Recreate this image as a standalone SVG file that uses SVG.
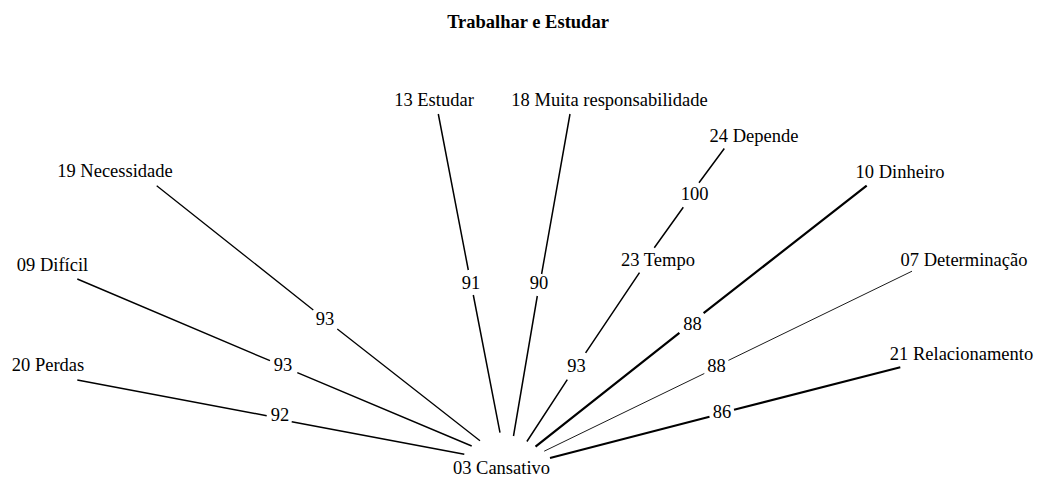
<svg xmlns="http://www.w3.org/2000/svg" width="1041" height="477" viewBox="0 0 1041 477">
<style>
text{font-family:"Liberation Serif","Times New Roman",serif;font-size:18.5px;fill:#000;text-anchor:middle}
.title{font-weight:bold}
.edge{fill:none;stroke:#000;stroke-width:1.5;stroke-linecap:butt}
</style>
<rect width="1041" height="477" fill="#fff"/>
<text class="title" x="528" y="28">Trabalhar e Estudar</text>
<g id="connectors">
<path class="edge" d="M77.3,380 L266.7,415.7 M291.7,421.7 L464.3,454.3"/>
<path class="edge" style="stroke-width:1.4" d="M77.3,279 L270,360.7 M297.3,372.7 L471.7,446"/>
<path class="edge" style="stroke-width:1.3" d="M156.7,185.7 L313.3,310 M337.3,329 L480,440.7"/>
<path class="edge" d="M438.3,114 L468.3,270 M473.3,295 L500,432.7"/>
<path class="edge" d="M570,114 L541.6,274 M537.3,296 L513.5,436"/>
<path class="edge" d="M724.3,148.5 L699,182.7 M683.3,207.3 L654.3,247.7"/>
<path class="edge" d="M639.5,272.7 L585.6,352.8 M567.3,379.7 L526.9,441.5"/>
<path class="edge" style="stroke-width:2.2" d="M866.7,185.7 L703.6,313.1 M679.4,332.8 L535.5,446.7"/>
<path class="edge" style="stroke-width:0.9" d="M912,271.2 L728.4,360.4 M704.3,373.5 L544.2,451.2"/>
<path class="edge" style="stroke-width:2" d="M900.3,367.3 L734,409.8 M709.5,416.7 L550,458"/>
<text x="280" y="421">92</text>
<text x="283" y="371">93</text>
<text x="325" y="325">93</text>
<text x="471" y="289">91</text>
<text x="539" y="289">90</text>
<text x="694.5" y="200">100</text>
<text x="576.5" y="372">93</text>
<text x="692.5" y="330">88</text>
<text x="716.5" y="372">88</text>
<text x="722" y="418">86</text>
</g>
<g id="n03"><text x="501.5" y="474">03 Cansativo</text></g>
<g id="n20"><text x="48" y="371">20 Perdas</text></g>
<g id="n09"><text x="52.5" y="271">09 Difícil</text></g>
<g id="n19"><text x="115" y="177">19 Necessidade</text></g>
<g id="n13"><text x="434" y="106">13 Estudar</text></g>
<g id="n18"><text x="609.5" y="106">18 Muita responsabilidade</text></g>
<g id="n24"><text x="754" y="142">24 Depende</text></g>
<g id="n23"><text x="658" y="266">23 Tempo</text></g>
<g id="n10"><text x="900" y="178">10 Dinheiro</text></g>
<g id="n07"><text x="964" y="266">07 Determinação</text></g>
<g id="n21"><text x="961.5" y="360">21 Relacionamento</text></g>
</svg>
